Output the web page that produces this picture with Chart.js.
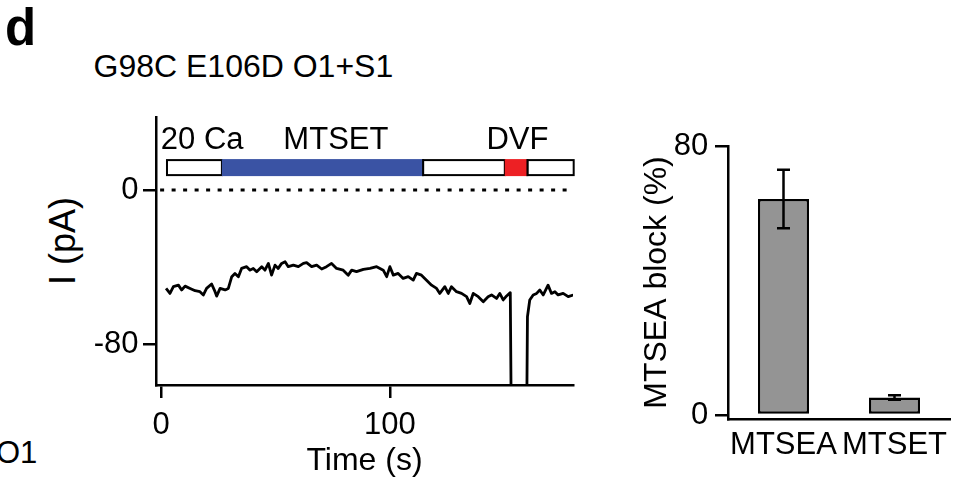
<!DOCTYPE html>
<html><head><meta charset="utf-8">
<script src="https://cdn.jsdelivr.net/npm/chart.js@4/dist/chart.umd.min.js"></script>
<style>
html,body{margin:0;padding:0;background:#fff;}
body{width:972px;height:491px;position:relative;overflow:hidden;font-family:'Liberation Sans',Arial,sans-serif;color:#000;}
.t{position:absolute;white-space:nowrap;line-height:1;}
canvas{position:absolute;top:0;}
</style></head><body>
<div class="t" style="left:5px;top:2px;font-size:51px;font-weight:bold;">d</div>
<div class="t" style="left:93.5px;top:50px;font-size:32px;">G98C E106D O1+S1</div>
<div class="t" style="left:-4px;top:437px;font-size:31px;">O1</div>
<div class="t" style="left:62.5px;top:240.5px;font-size:36px;transform:translate(-50%,-50%) rotate(-90deg);">I (pA)</div>
<canvas id="c1" width="600" height="491" style="left:0"></canvas>
<canvas id="c2" width="372" height="491" style="left:600px"></canvas>
<script>
const FONT = "'Liberation Sans', Arial, sans-serif";
Chart.defaults.font.family = FONT;
Chart.defaults.color = '#000';

// ---- Left panel: current trace (G98C E106D O1+S1) ----
const traceTime = [2.2, 3.9, 5.4, 7.6, 9.0, 10.5, 12.7, 14.9, 17.0, 18.5, 19.9, 22.1, 23.6, 24.3, 25.8, 28.0, 29.4, 30.9, 32.3, 33.8, 35.2, 37.4, 38.9, 40.3, 41.8, 44.0, 45.4, 46.9, 48.3, 49.8, 51.2, 52.7, 54.2, 55.6, 57.8, 60.0, 62.2, 63.6, 65.8, 68.0, 70.2, 72.3, 74.5, 76.7, 79.6, 81.8, 83.3, 85.4, 88.4, 91.3, 94.2, 97.1, 98.6, 100.0, 101.5, 103.6, 105.8, 108.0, 110.2, 111.6, 113.8, 116.0, 118.2, 120.4, 121.8, 124.0, 125.5, 126.9, 129.1, 131.3, 133.5, 134.9, 136.4, 138.6, 140.8, 142.9, 144.4, 146.6, 148.0, 149.5, 151.0, 152.6, 153.1, 159.7, 160.1, 161.1, 162.6, 164.1, 165.5, 167.0, 169.1, 170.6, 172.1, 173.5, 175.7, 177.9, 180.1];
const traceCurrent = [-51.1, -53.7, -50.2, -49.4, -51.9, -49.9, -51.1, -52.3, -52.8, -54.5, -51.1, -48.8, -52.8, -55.1, -51.1, -51.9, -51.1, -45.0, -43.3, -45.0, -40.7, -39.8, -41.6, -40.7, -42.4, -39.8, -41.6, -38.1, -44.2, -39.0, -40.7, -38.1, -37.2, -39.8, -39.0, -39.8, -38.1, -37.7, -39.8, -39.0, -41.0, -39.8, -38.1, -40.7, -41.6, -44.2, -41.6, -42.4, -41.2, -40.7, -39.8, -41.6, -45.0, -39.8, -44.2, -43.3, -45.9, -45.0, -46.8, -43.3, -44.2, -46.8, -49.4, -51.1, -53.7, -50.2, -53.7, -50.2, -52.8, -53.7, -55.4, -58.9, -53.7, -55.4, -58.0, -55.4, -54.5, -56.3, -53.7, -57.1, -55.0, -53.3, -130, -130, -65.8, -57.1, -54.5, -53.7, -51.9, -54.5, -49.4, -53.7, -52.8, -54.5, -53.7, -55.4, -54.5];
const timeTicks = [0, 100];
const currentTicks = [0, -80];
const zeroLineTime = [-0.4, 177.7];
const zeroLineCurrent = [0, 0];

// solution exchange bar (time in s)
const solutionStart = [2.6, 26.6, 114.5, 150.2, 160.1];
const solutionEnd   = [26.6, 114.5, 150.2, 160.1, 180.3];
const solutionKind  = ['bath', 'MTSET', 'bath', 'DVF', 'bath'];
const solutionBand  = [7.8, 15.6];          // pA range occupied by the bar
const solutionLabels = ['20 Ca', 'MTSET', 'DVF'];
const solutionLabelTime = [-0.1, 76.4, 155.7];
const solutionLabelLevel = 21.3;

// ---- Right panel: block summary ----
const reagents = ['MTSEA', 'MTSET'];
const blockMean = [64.2, 5.2];
const blockErr = [8.7, 0.7];
const blockTicks = [0, 80];

const kindColor = { bath: '#ffffff', MTSET: '#3a53a4', DVF: '#ed2024' };
const labelAlign = ['left', 'center', 'center'];

const solutionPlugin = {
  id: 'solutions',
  afterDatasetsDraw(chart) {
    const { ctx, scales: { x, y } } = chart;
    const yTop = y.getPixelForValue(solutionBand[1]);
    const yBot = y.getPixelForValue(solutionBand[0]);
    ctx.save();
    ctx.strokeStyle = '#000';
    ctx.lineWidth = 2;
    solutionStart.forEach((s, i) => {
      if (solutionKind[i] !== 'bath') return;
      const x0 = x.getPixelForValue(s), x1 = x.getPixelForValue(solutionEnd[i]);
      ctx.fillStyle = kindColor.bath;
      ctx.fillRect(x0, yTop, x1 - x0, yBot - yTop);
      ctx.strokeRect(x0, yTop, x1 - x0, yBot - yTop);
    });
    solutionStart.forEach((s, i) => {
      if (solutionKind[i] === 'bath') return;
      const x0 = x.getPixelForValue(s), x1 = x.getPixelForValue(solutionEnd[i]);
      ctx.fillStyle = kindColor[solutionKind[i]];
      ctx.fillRect(x0, yTop - 1, x1 - x0, yBot - yTop + 2);
      ctx.beginPath();
      ctx.moveTo(x1, yTop - 1); ctx.lineTo(x1, yBot + 1);
      ctx.stroke();
    });
    ctx.font = '31px ' + FONT;
    ctx.fillStyle = '#000';
    ctx.textBaseline = 'alphabetic';
    solutionLabels.forEach((t, i) => {
      ctx.textAlign = labelAlign[i];
      ctx.fillText(t, x.getPixelForValue(solutionLabelTime[i]), y.getPixelForValue(solutionLabelLevel));
    });
    ctx.restore();
  }
};

const errorBarPlugin = {
  id: 'errorBars',
  afterDatasetsDraw(chart) {
    const { ctx, scales: { y } } = chart;
    const meta = chart.getDatasetMeta(0);
    ctx.save();
    ctx.strokeStyle = '#000';
    ctx.lineWidth = 2.5;
    meta.data.forEach((bar, i) => {
      const yHi = y.getPixelForValue(blockMean[i] + blockErr[i]);
      const yLo = y.getPixelForValue(blockMean[i] - blockErr[i]);
      const cap = 6.5;
      ctx.beginPath();
      ctx.moveTo(bar.x, yHi); ctx.lineTo(bar.x, yLo);
      ctx.moveTo(bar.x - cap, yHi); ctx.lineTo(bar.x + cap, yHi);
      ctx.moveTo(bar.x - cap, yLo); ctx.lineTo(bar.x + cap, yLo);
      ctx.stroke();
    });
    ctx.restore();
  }
};

new Chart(document.getElementById('c1'), {
  type: 'line',
  data: {
    datasets: [
      {
        data: traceTime.map((t, i) => ({ x: t, y: traceCurrent[i] })),
        borderColor: '#000', borderWidth: 2.8, pointRadius: 0, tension: 0,
        borderJoinStyle: 'round'
      },
      {
        data: zeroLineTime.map((t, i) => ({ x: t, y: zeroLineCurrent[i] })),
        borderColor: '#000', borderWidth: 3, borderDash: [4, 7.5], borderCapStyle: 'butt',
        pointRadius: 0
      }
    ]
  },
  options: {
    responsive: false, animation: false, events: [],
    layout: { padding: { left: 56, top: 117, right: 27, bottom: 11 } },
    plugins: { legend: { display: false }, tooltip: { enabled: false } },
    scales: {
      x: {
        type: 'linear', min: -2.2, max: 180,
        afterBuildTicks: s => { s.ticks = timeTicks.map(v => ({ value: v })); },
        afterFit: s => { s.height = 95; },
        grid: { drawOnChartArea: false, drawTicks: true, tickLength: 13, color: '#000', lineWidth: 2.5 },
        border: { display: true, color: '#000', width: 2.5 },
        ticks: { font: { size: 31 }, color: '#000', padding: 9, maxRotation: 0, autoSkip: false, callback: v => String(v) },
        title: { display: true, text: 'Time (s)', font: { size: 32 }, color: '#000', padding: 0 }
      },
      y: {
        type: 'linear', min: -101.3, max: 38.0,
        afterBuildTicks: s => { s.ticks = currentTicks.map(v => ({ value: v })); },
        afterFit: s => { s.width = 100; },
        grid: { drawOnChartArea: false, drawTicks: true, tickLength: 13, color: '#000', lineWidth: 2.5 },
        border: { display: true, color: '#000', width: 2.5 },
        ticks: { font: { size: 31 }, color: '#000', padding: 4.5, callback: v => String(v) }
      }
    }
  },
  plugins: [solutionPlugin]
});

new Chart(document.getElementById('c2'), {
  type: 'bar',
  data: {
    labels: reagents,
    datasets: [{
      data: blockMean,
      backgroundColor: '#949494', borderColor: '#000', borderWidth: 2.5, borderSkipped: false,
      barPercentage: 0.46, categoryPercentage: 1
    }]
  },
  options: {
    responsive: false, animation: false, events: [],
    layout: { padding: { left: 37.8, top: 146, right: 22, bottom: 12 } },
    plugins: { legend: { display: false }, tooltip: { enabled: false } },
    scales: {
      x: {
        type: 'category', offset: true,
        afterFit: s => { s.height = 60; },
        grid: { drawOnChartArea: false, drawTicks: false },
        border: { display: true, color: '#000', width: 2.5 },
        ticks: { font: { size: 31 }, color: '#000', padding: 8, maxRotation: 0, autoSkip: false }
      },
      y: {
        type: 'linear', min: -1.2, max: 80,
        afterBuildTicks: s => { s.ticks = blockTicks.map(v => ({ value: v })); },
        afterFit: s => { s.width = 90.2; },
        grid: { drawOnChartArea: false, drawTicks: true, tickLength: 13, color: '#000', lineWidth: 2.5 },
        border: { display: true, color: '#000', width: 2.5 },
        ticks: { font: { size: 31 }, color: '#000', padding: 6.7, callback: v => String(v) },
        title: { display: true, text: 'MTSEA block (%)', font: { size: 32 }, color: '#000', padding: 0 }
      }
    }
  },
  plugins: [errorBarPlugin]
});
</script>
</body></html>
